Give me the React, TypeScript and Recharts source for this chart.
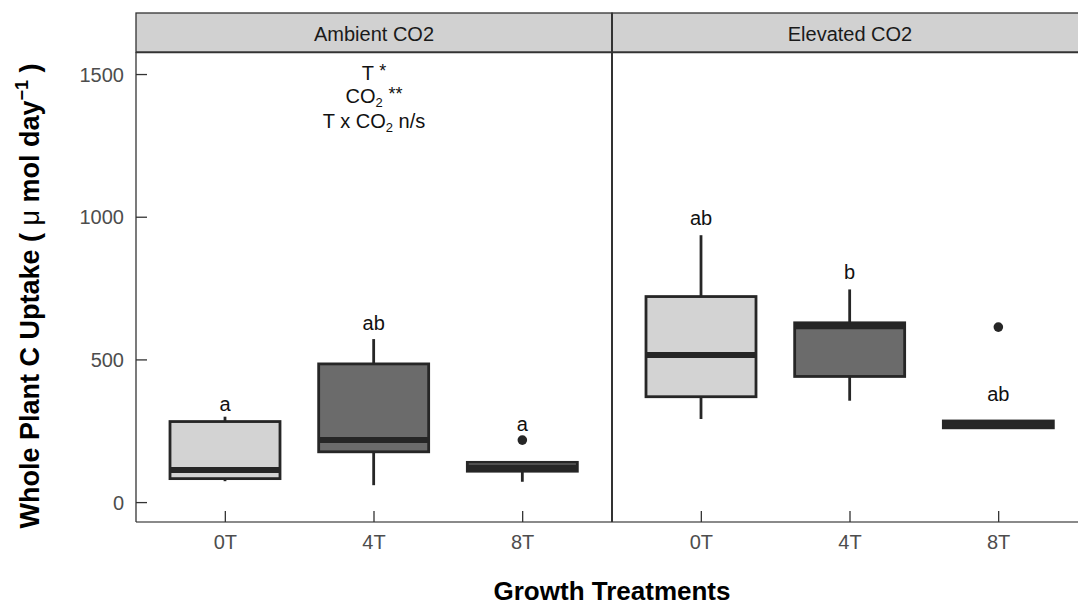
import React from 'react';
import { ComposedChart, Bar, XAxis, YAxis } from 'recharts';

// Growth treatments (x categories)
const CATEGORIES = ['0T', '4T', '8T'];

// Ambient CO2 box-plot statistics (µmol day⁻¹)
const AMBIENT_LOW = [75, 61, 73];
const AMBIENT_Q1 = [84, 178, 110];
const AMBIENT_MEDIAN = [114, 219, 124];
const AMBIENT_Q3 = [284, 486, 141];
const AMBIENT_HIGH = [301, 573, 141];
const AMBIENT_OUTLIERS = [[], [], [219]];
const AMBIENT_LETTERS = ['a', 'ab', 'a'];
const AMBIENT_LETTER_Y = [322, 605, 252];

// Elevated CO2 box-plot statistics (µmol day⁻¹)
const ELEVATED_LOW = [293, 357, 262];
const ELEVATED_Q1 = [371, 442, 262];
const ELEVATED_MEDIAN = [517, 618, 273];
const ELEVATED_Q3 = [722, 630, 286];
const ELEVATED_HIGH = [937, 747, 286];
const ELEVATED_OUTLIERS = [[], [], [615]];
const ELEVATED_LETTERS = ['ab', 'b', 'ab'];
const ELEVATED_LETTER_Y = [973, 783, 356];

// Axis
const Y_TICKS = [0, 500, 1000, 1500];
const Y_DOMAIN: [number, number] = [-68, 1579];

// Fills per treatment
const FILLS = ['#d3d3d3', '#6b6b6b', '#d3d3d3'];

const INK = '#262626';
const FONT = '"Liberation Sans", Arial, sans-serif';

const buildRows = (
  low: number[], q1: number[], med: number[], q3: number[], high: number[],
  outliers: number[][], letters: string[], letterY: number[]
) =>
  CATEGORIES.map((cat, i) => ({
    cat,
    range: [q1[i], q3[i]],
    low: low[i],
    q1: q1[i],
    median: med[i],
    q3: q3[i],
    high: high[i],
    outliers: outliers[i],
    letter: letters[i],
    letterY: letterY[i],
    fill: FILLS[i],
  }));

const ambientRows = buildRows(
  AMBIENT_LOW, AMBIENT_Q1, AMBIENT_MEDIAN, AMBIENT_Q3, AMBIENT_HIGH,
  AMBIENT_OUTLIERS, AMBIENT_LETTERS, AMBIENT_LETTER_Y
);
const elevatedRows = buildRows(
  ELEVATED_LOW, ELEVATED_Q1, ELEVATED_MEDIAN, ELEVATED_Q3, ELEVATED_HIGH,
  ELEVATED_OUTLIERS, ELEVATED_LETTERS, ELEVATED_LETTER_Y
);

// Box drawn from the bar's [q1, q3] rectangle; other statistics use the same linear y scale.
const BoxShape = (props: any) => {
  const { x, y, width, height, payload } = props;
  const top = Math.min(y, y + height);
  const bottom = Math.max(y, y + height);
  const k = (bottom - top) / (payload.q3 - payload.q1);
  const py = (v: number) => bottom - (v - payload.q1) * k;
  const cx = x + width / 2;
  return (
    <g>
      <line x1={cx} x2={cx} y1={py(payload.q3)} y2={py(payload.high)} stroke={INK} strokeWidth={2.8} />
      <line x1={cx} x2={cx} y1={py(payload.q1)} y2={py(payload.low)} stroke={INK} strokeWidth={2.8} />
      <rect x={x} y={top} width={width} height={bottom - top} fill={payload.fill} stroke={INK} strokeWidth={2.8} />
      <line x1={x} x2={x + width} y1={py(payload.median)} y2={py(payload.median)} stroke={INK} strokeWidth={6} />
      {payload.outliers.map((o: number, i: number) => (
        <circle key={i} cx={cx} cy={py(o)} r={4.8} fill={INK} />
      ))}
      <text x={cx} y={py(payload.letterY)} textAnchor="middle" fontSize={20} fill="#111" fontFamily={FONT}>
        {payload.letter}
      </text>
    </g>
  );
};

const YTick = (props: any) => {
  const { x, y, payload } = props;
  return (
    <g>
      <line x1={x} x2={x + 11} y1={y} y2={y} stroke="#333" strokeWidth={1.3} />
      <text x={x - 12} y={y} dy="0.36em" textAnchor="end" fontSize={20} fill="#4d4d4d" fontFamily={FONT}>
        {payload.value}
      </text>
    </g>
  );
};

const XTick = (props: any) => {
  const { x, y, payload } = props;
  return (
    <g>
      <line x1={x} x2={x} y1={y - 11} y2={y} stroke="#333" strokeWidth={1.3} />
      <text x={x} y={y + 27} textAnchor="middle" fontSize={20} fill="#4d4d4d" fontFamily={FONT}>
        {payload.value}
      </text>
    </g>
  );
};

const MARGIN = { top: 52, right: 0, bottom: 0, left: 0 };

const Panel = ({ rows, width, showY }: { rows: any[]; width: number; showY: boolean }) => (
  <ComposedChart width={width} height={607} data={rows} margin={MARGIN}>
    <XAxis
      dataKey="cat"
      height={85}
      padding={{ left: 15, right: 15 }}
      tickSize={0}
      tickMargin={0}
      tickLine={false}
      axisLine={{ stroke: '#8a8a8a', strokeWidth: 2 }}
      tick={<XTick />}
      interval={0}
    />
    <YAxis
      type="number"
      domain={Y_DOMAIN}
      ticks={Y_TICKS}
      width={showY ? 136 : 0}
      hide={!showY}
      tickSize={0}
      tickMargin={0}
      tickLine={false}
      axisLine={{ stroke: '#333', strokeWidth: 1.3 }}
      tick={<YTick />}
      interval={0}
      allowDataOverflow
    />
    <Bar dataKey="range" barSize={110} shape={<BoxShape />} isAnimationActive={false} />
  </ComposedChart>
);

export default function App() {
  return (
    <div
      style={{
        position: 'absolute',
        left: 0,
        top: 0,
        width: 1078,
        height: 607,
        overflow: 'hidden',
        background: '#fff',
        fontFamily: FONT,
      }}
    >
      <div style={{ position: 'absolute', left: 0, top: 0 }}>
        <Panel rows={ambientRows} width={612} showY />
      </div>
      <div style={{ position: 'absolute', left: 612, top: 0 }}>
        <Panel rows={elevatedRows} width={476} showY={false} />
      </div>
      <svg
        width={1078}
        height={607}
        style={{ position: 'absolute', left: 0, top: 0, pointerEvents: 'none' }}
      >
        {/* facet strips */}
        <rect x={136} y={13} width={476} height={39} fill="#d1d1d1" stroke="#333" strokeWidth={1.3} />
        <rect x={612} y={13} width={476} height={39} fill="#d1d1d1" stroke="#333" strokeWidth={1.3} />
        <line x1={136} x2={1088} y1={52.5} y2={52.5} stroke="#333" strokeWidth={1.6} />
        <line x1={612} x2={612} y1={13} y2={522} stroke="#333" strokeWidth={2} />
        <text x={374} y={40.5} textAnchor="middle" fontSize={20} fill="#1a1a1a" fontFamily={FONT}>
          Ambient CO2
        </text>
        <text x={850} y={40.5} textAnchor="middle" fontSize={20} fill="#1a1a1a" fontFamily={FONT}>
          Elevated CO2
        </text>

        {/* ANOVA summary */}
        <text fontFamily={FONT} fontSize={20} fill="#111" textAnchor="middle" x={374} y={80}>
          <tspan x={374} y={80}>T </tspan>
          <tspan fontSize={18} dy={-3}>*</tspan>
          <tspan x={374} y={102.5}>CO</tspan>
          <tspan fontSize={13} dy={4}>2</tspan>
          <tspan dy={-4}> </tspan>
          <tspan fontSize={18} dy={-3}>**</tspan>
          <tspan x={374} y={128}>T x CO</tspan>
          <tspan fontSize={13} dy={4}>2</tspan>
          <tspan dy={-4}> n/s</tspan>
        </text>

        {/* axis titles */}
        <text
          transform="translate(39, 296) rotate(-90)"
          textAnchor="middle"
          fontSize={27}
          fontWeight="bold"
          fill="#000"
          fontFamily={FONT}
        >
          Whole Plant C Uptake (
          <tspan fontWeight="normal"> μ </tspan>
          mol day
          <tspan fontSize={18} dy={-11}>−1</tspan>
          <tspan dy={11}> )</tspan>
        </text>
        <text x={612} y={600} textAnchor="middle" fontSize={26} fontWeight="bold" fill="#000" fontFamily={FONT}>
          Growth Treatments
        </text>
      </svg>
    </div>
  );
}
